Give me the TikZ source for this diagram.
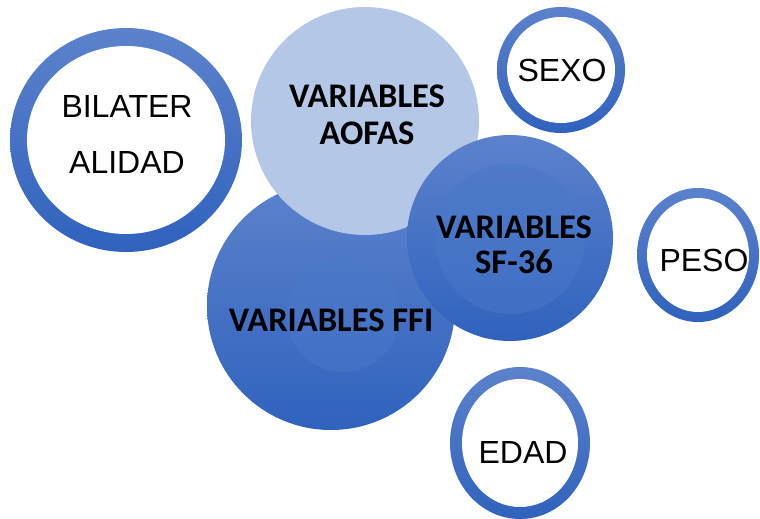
\documentclass[tikz,border=0pt]{standalone}
\usepackage{fontspec}
\setmainfont{Liberation Sans}
\newfontfamily\calib{Carlito}
\usetikzlibrary{shapes.geometric}
\definecolor{ringtop}{HTML}{5C82CC}
\definecolor{ringbot}{HTML}{3062BD}
\definecolor{aofas}{HTML}{B4C7E7}
\definecolor{innerblue}{HTML}{4A78C8}
\tikzset{
 ringout/.style={ellipse, inner sep=0pt, outer sep=0pt, top color=ringtop, bottom color=ringbot, draw=none},
 ringin/.style={ellipse, inner sep=0pt, outer sep=0pt, fill=white, draw=none},
 ringlab/.style={font=\fontsize{32}{56}\selectfont, align=center, inner sep=0pt},
 ball/.style={circle, inner sep=0pt, outer sep=0pt, top color=ringtop, bottom color=ringbot, draw=none},
 core/.style={circle, inner sep=0pt, outer sep=0pt, fill=innerblue, fill opacity=0.5, draw=none},
 boldlab/.style={font=\calib\bfseries\fontsize{34.5}{37}\selectfont, align=center, inner sep=0pt}
}
\begin{document}
\begin{tikzpicture}[x=1pt,y=-1pt]
\useasboundingbox (0,0) rectangle (760,519);
% BILATERALIDAD ring
\node[ringout, minimum width=232pt, minimum height=224pt] (bilo) at (126,140) {};
\node[ringin, minimum width=198pt, minimum height=188pt] (bili) at (126,140) {};
\node[ringlab] (bilt) at (127,134) {BILATER\\ALIDAD};
% FFI
\node[ball, minimum size=248pt] (ffi) at (331,306) {};
\node[core, minimum size=114pt] (ffic) at (343,315) {};
% AOFAS
\node[circle, inner sep=0pt, fill=aofas, minimum size=228pt] (aofas) at (365,121) {};
\node[boldlab] (aofast) at (367,115) {VARIABLES\\AOFAS};
\node[boldlab] (ffit) at (331,320) {VARIABLES FFI};
% SF-36
\node[ball, minimum size=206pt] (sf) at (510,238) {};
\node[core, minimum size=150pt] (sfc) at (510,239) {};
\node[boldlab, font=\calib\bfseries\fontsize{34.5}{35}\selectfont] (sft) at (514,245) {VARIABLES\\SF-36};
% SEXO
\node[ringout, minimum width=128pt, minimum height=126pt] (sexo) at (561,70) {};
\node[ringin, minimum width=108pt, minimum height=106pt] (sexoi) at (561,70) {};
\node[ringlab] (sexot) at (562,70) {SEXO};
% PESO
\node[ringout, minimum width=122pt, minimum height=134pt] (peso) at (698,255) {};
\node[ringin, minimum width=102pt, minimum height=114pt] (pesoi) at (698,255) {};
\node[ringlab] (pesot) at (704,260) {PESO};
% EDAD
\node[ringout, minimum width=140pt, minimum height=152pt] (edad) at (520,443) {};
\node[ringin, minimum width=116pt, minimum height=128pt] (edadi) at (520,443) {};
\node[ringlab] (edadt) at (523,452) {EDAD};
\end{tikzpicture}
\end{document}
